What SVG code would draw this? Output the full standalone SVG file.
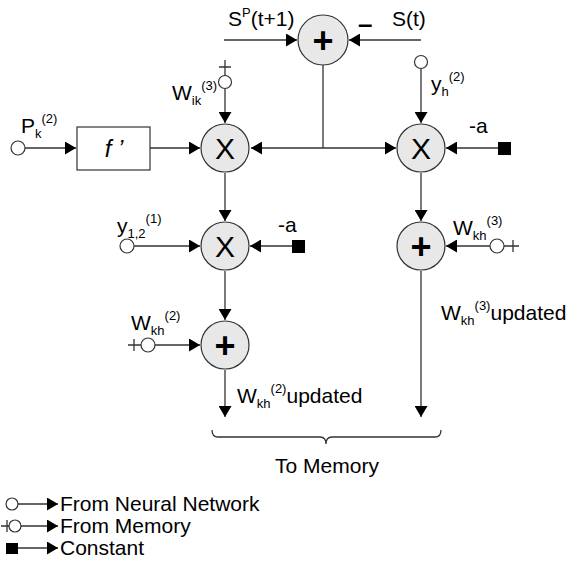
<svg xmlns="http://www.w3.org/2000/svg" width="569" height="565" viewBox="0 0 569 565">
<style>
text{font-family:"Liberation Sans",Arial,sans-serif;fill:#000}
.lbl{font-size:21px}
.sub{font-size:13px}
.op{fill:#e8e8e8;stroke:#333;stroke-width:1.2}
.op-t{font-size:30px;text-anchor:middle}
.plus{font-size:36px;font-weight:bold;text-anchor:middle}
.ln{stroke:#333;stroke-width:1.3;fill:none}
.arr{stroke:#333;stroke-width:1.3;fill:none;marker-end:url(#ah)}
.src{fill:#fff;stroke:#333;stroke-width:1.2}
.const{fill:#000}
</style>
<defs>
<marker id="ah" markerUnits="userSpaceOnUse" markerWidth="12" markerHeight="13" refX="11" refY="6.5" orient="auto">
<path d="M0,0 L11,6.5 L0,13 z" fill="#000"/>
</marker>
</defs>

<g id="connectors">
<path class="arr" d="M224,40 H297"/>
<path class="arr" d="M421,40 H349"/>
<path class="ln" d="M323,65 V148"/>
<path class="arr" d="M323,148 H251"/>
<path class="arr" d="M323,148 H396"/>
<path class="arr" d="M225,89 V123"/>
<path class="arr" d="M421,69 V123"/>
<path class="arr" d="M25,148 H76"/>
<path class="arr" d="M150,148 H200"/>
<path class="arr" d="M498,148 H446"/>
<path class="arr" d="M225,173 V221"/>
<path class="arr" d="M134,246 H200"/>
<path class="arr" d="M292,246 H250"/>
<path class="arr" d="M225,271 V320"/>
<path class="arr" d="M155,345 H200"/>
<path class="arr" d="M225,370 V417"/>
<path class="arr" d="M421,173 V221"/>
<path class="arr" d="M490,246 H446"/>
<path class="arr" d="M421,271 V417"/>
<path class="ln" d="M212,430 Q212,437 218,437 H320 Q326,437 326,444 Q326,437 332,437 H435 Q441,437 441,430"/>
</g>

<g id="sum-top">
<circle class="op" cx="323" cy="40" r="25"/>
<text class="plus" x="323" y="53">+</text>
</g>
<g id="label-sp">
<text class="lbl" x="228" y="26">S<tspan class="sub" dy="-9">P</tspan><tspan dy="9">(t+1)</tspan></text>
</g>
<g id="label-st">
<text class="lbl" x="392" y="26">S(t)</text>
<text x="358" y="33" style="font-size:26px;font-weight:bold">–</text>
</g>

<g id="mult-left">
<circle class="op" cx="225" cy="148" r="24"/>
<text class="op-t" x="225" y="159">X</text>
</g>
<g id="mult-right">
<circle class="op" cx="421" cy="148" r="24"/>
<text class="op-t" x="421" y="159">X</text>
</g>

<g id="wik">
<path class="ln" d="M225,60 V76 M219,67 H231"/>
<circle class="src" cx="225" cy="82" r="6.5"/>
<text class="lbl" x="172" y="100">W<tspan class="sub" dy="5">ik</tspan><tspan class="sub" dy="-15">(3)</tspan></text>
</g>

<g id="yh">
<circle class="src" cx="421" cy="62" r="6.5"/>
<text class="lbl" x="431" y="91">y<tspan class="sub" dy="5">h</tspan><tspan class="sub" dy="-15">(2)</tspan></text>
</g>

<g id="const-right">
<rect class="const" x="498" y="142" width="13" height="13"/>
<text class="lbl" x="469" y="133">-a</text>
</g>

<g id="pk">
<circle class="src" cx="18" cy="148" r="7"/>
<text class="lbl" x="21" y="133">P<tspan class="sub" dy="5">k</tspan><tspan class="sub" dy="-15">(2)</tspan></text>
</g>

<g id="fprime">
<rect x="77" y="127" width="73" height="43" fill="#fff" stroke="#333" stroke-width="1.2"/>
<text x="114" y="157" style="font-size:24px;font-style:italic;text-anchor:middle">f ’</text>
</g>

<g id="mult-left2">
<circle class="op" cx="225" cy="246" r="24"/>
<text class="op-t" x="225" y="257">X</text>
</g>

<g id="y12">
<circle class="src" cx="127" cy="246" r="7"/>
<text class="lbl" x="117" y="233">y<tspan class="sub" dy="5">1,2</tspan><tspan class="sub" dy="-15">(1)</tspan></text>
</g>

<g id="const-left">
<rect class="const" x="292" y="240" width="13" height="13"/>
<text class="lbl" x="278" y="232">-a</text>
</g>

<g id="sum-left">
<circle class="op" cx="225" cy="345" r="24"/>
<text class="plus" x="225" y="358">+</text>
</g>

<g id="wkh2">
<path class="ln" d="M128,345 H141 M134,339 V351"/>
<circle class="src" cx="148" cy="345" r="7"/>
<text class="lbl" x="131" y="330">W<tspan class="sub" dy="5">kh</tspan><tspan class="sub" dy="-15">(2)</tspan></text>
</g>

<g id="wkh2-updated">
<text class="lbl" x="237" y="403">W<tspan class="sub" dy="5">kh</tspan><tspan class="sub" dy="-15">(2)</tspan><tspan dy="10" style="font-size:21px">updated</tspan></text>
</g>

<g id="sum-right">
<circle class="op" cx="421" cy="246" r="24"/>
<text class="plus" x="421" y="259">+</text>
</g>

<g id="wkh3">
<circle class="src" cx="497" cy="246" r="7"/>
<path class="ln" d="M504,246 H519 M513,240 V252"/>
<text class="lbl" x="453" y="235">W<tspan class="sub" dy="5">kh</tspan><tspan class="sub" dy="-15">(3)</tspan></text>
</g>

<g id="wkh3-updated">
<text class="lbl" x="441" y="320">W<tspan class="sub" dy="5">kh</tspan><tspan class="sub" dy="-15">(3)</tspan><tspan dy="10" style="font-size:21px">updated</tspan></text>
</g>

<g id="to-memory">
<text class="lbl" x="327" y="473" text-anchor="middle">To Memory</text>
</g>

<g id="legend">
<circle class="src" cx="12" cy="504" r="6"/>
<path class="arr" d="M18,504 H58"/>
<text class="lbl" x="60" y="511">From Neural Network</text>
<path class="ln" d="M1,526 H9 M7,520 V532"/>
<circle class="src" cx="15" cy="526" r="6"/>
<path class="arr" d="M21,526 H58"/>
<text class="lbl" x="60" y="533">From Memory</text>
<rect class="const" x="6" y="543" width="12" height="11"/>
<path class="arr" d="M18,548 H58"/>
<text class="lbl" x="60" y="555">Constant</text>
</g>
</svg>
